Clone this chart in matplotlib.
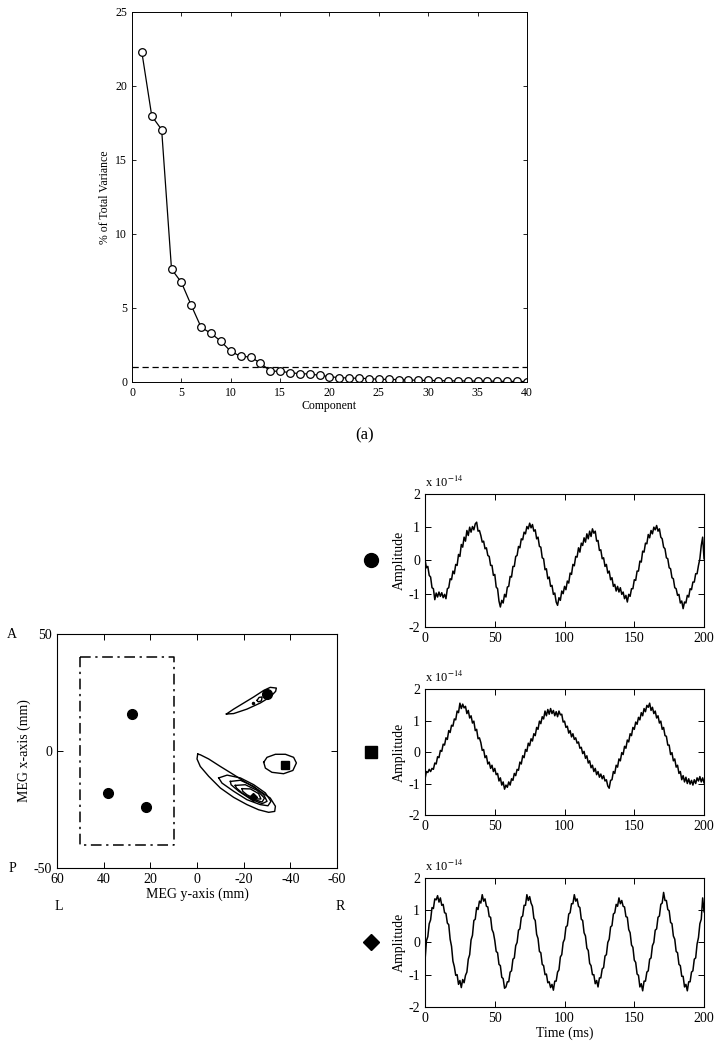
import numpy as np
import matplotlib
matplotlib.use("Agg")
import matplotlib.pyplot as plt
from matplotlib.lines import Line2D

plt.rcParams['font.family'] = ['Liberation Serif', 'DejaVu Serif']
plt.rcParams['mathtext.fontset'] = 'stix'
plt.rcParams['axes.unicode_minus'] = False
plt.rcParams['xtick.direction'] = 'in'
plt.rcParams['ytick.direction'] = 'in'
plt.rcParams['xtick.top'] = True
plt.rcParams['ytick.right'] = True

# ---- (a) variance explained per component ----
component = np.arange(1, 41)
variance = [22.27, 17.97, 17.05, 7.63, 6.73, 5.18, 3.69, 3.29, 2.75, 2.07,
            1.73, 1.69, 1.28, 0.74, 0.72, 0.63, 0.56, 0.54, 0.45, 0.36,
            0.29, 0.27, 0.25, 0.23, 0.18, 0.18, 0.16, 0.14, 0.11, 0.11,
            0.09, 0.08, 0.07, 0.07, 0.06, 0.06, 0.05, 0.04, 0.04, 0.03]
threshold = 1.0

# ---- map of sources (MEG y, MEG x in mm) ----
box_y = [50, 10, 10, 50, 50]
box_x = [40, 40, -40, -40, 40]
dots_y = [28, 38, 22]
dots_x = [16, -18, -24]
circle_src = (-30, 24.2)
square_src = (-37.9, -6.0)
diamond_src = (-24, -19.8)

contour_upper = [(-12.6, 15.8), (-15.7, 17.9), (-20.0, 20.5), (-24.3, 23.1), (-28.6, 25.9),
                 (-31.4, 27.2), (-34.0, 26.9), (-33.7, 25.5), (-31.4, 23.1), (-27.1, 20.5),
                 (-21.4, 17.9), (-15.7, 16.0), (-12.6, 15.8)]
contour_small = [(-25.7, 21.6), (-26.6, 22.9), (-27.9, 23.1), (-27.6, 21.4), (-26.3, 21.0), (-25.7, 21.6)]
contour_square = [(-28.6, -4.8), (-30.0, -2.7), (-33.6, -1.4), (-37.9, -1.4), (-41.4, -2.7),
                  (-42.6, -5.1), (-41.1, -8.3), (-37.1, -9.7), (-32.1, -9.1), (-29.3, -7.3), (-28.6, -4.8)]
contour_lower1 = [(-0.3, -1.3), (-1.4, -1.6), (-5.0, -3.4), (-10.0, -6.6), (-15.7, -10.1),
                  (-21.4, -13.7), (-27.1, -17.2), (-31.4, -20.1), (-33.6, -23.6), (-33.3, -25.8),
                  (-30.7, -26.2), (-26.4, -25.1), (-21.4, -22.9), (-15.7, -19.8), (-10.0, -15.8),
                  (-5.0, -10.8), (-1.4, -6.6), (0.0, -3.4), (-0.3, -1.3)]
contour_lower2 = [(-9.3, -11.5), (-12.9, -10.3), (-18.6, -11.5), (-24.3, -14.4), (-29.3, -17.9),
                  (-31.7, -21.5), (-30.4, -23.4), (-27.1, -22.9), (-21.4, -20.8), (-15.7, -17.2),
                  (-10.7, -13.7), (-9.3, -11.5)]
contour_lower3 = [(-14.3, -13.0), (-18.6, -12.5), (-24.3, -15.1), (-28.6, -18.7), (-30.0, -21.5),
                  (-27.9, -22.5), (-22.9, -20.5), (-17.9, -17.2), (-14.6, -14.4), (-14.3, -13.0)]
contour_lower4 = [(-16.4, -14.7), (-20.7, -14.4), (-25.7, -16.8), (-28.9, -20.1), (-27.9, -21.8),
                  (-23.6, -20.4), (-19.3, -17.9), (-16.9, -15.8), (-16.4, -14.7)]
contour_lower5 = [(-19.3, -16.1), (-22.9, -16.2), (-26.4, -18.2), (-27.4, -20.5), (-25.0, -20.5),
                  (-21.4, -18.7), (-19.6, -17.2), (-19.3, -16.1)]

# ---- source waveforms (x 1e-14), 1 ms steps ----
time_ms = np.arange(0, 201)
wave_circle = [
    0.02, -0.22, -0.18, -0.45, -0.50, -0.82, -0.85, -1.18, -0.98, -1.10,
    -0.95, -1.08, -0.97, -1.12, -1.02, -1.15, -0.85, -0.82, -0.55, -0.58,
    -0.32, -0.40, -0.12, -0.15, 0.18, 0.12, 0.48, 0.40, 0.70, 0.58,
    0.90, 0.75, 1.00, 0.85, 1.02, 0.92, 1.10, 1.15, 0.88, 0.90,
    0.75, 0.55, 0.58, 0.35, 0.38, 0.15, 0.12, -0.15, -0.15, -0.45,
    -0.42, -0.80, -0.85, -1.22, -1.40, -1.20, -1.28, -1.02, -1.10, -0.80,
    -0.78, -0.48, -0.50, -0.18, -0.18, 0.12, 0.15, 0.42, 0.38, 0.65,
    0.62, 0.85, 0.80, 1.02, 0.95, 1.12, 0.98, 1.08, 0.88, 0.92,
    0.65, 0.70, 0.42, 0.40, 0.08, 0.05, -0.28, -0.25, -0.55, -0.50,
    -0.78, -0.75, -1.02, -0.98, -1.25, -1.35, -1.12, -1.20, -0.92, -1.00,
    -0.78, -0.88, -0.62, -0.68, -0.38, -0.42, -0.12, -0.16, 0.12, 0.10,
    0.38, 0.25, 0.52, 0.45, 0.68, 0.55, 0.80, 0.65, 0.88, 0.72,
    0.95, 0.82, 0.88, 0.58, 0.60, 0.30, 0.32, 0.05, 0.08, -0.18,
    -0.12, -0.38, -0.32, -0.58, -0.52, -0.78, -0.72, -0.92, -0.78, -0.95,
    -0.82, -1.02, -0.95, -1.15, -1.05, -1.25, -1.02, -1.08, -0.85, -0.85,
    -0.58, -0.60, -0.32, -0.32, -0.02, -0.05, 0.28, 0.25, 0.52, 0.50,
    0.78, 0.68, 0.90, 0.80, 1.00, 0.92, 1.05, 0.88, 0.95, 0.70,
    0.65, 0.40, 0.35, 0.08, 0.05, -0.22, -0.25, -0.52, -0.55, -0.82,
    -0.85, -1.05, -1.02, -1.28, -1.22, -1.45, -1.25, -1.28, -1.05, -1.10,
    -0.85, -0.88, -0.65, -0.65, -0.40, -0.40, -0.15, 0.05, 0.45, 0.70, 0.05]
wave_square = [
    -0.85, -0.62, -0.65, -0.55, -0.62, -0.52, -0.55, -0.35, -0.38, -0.15,
    -0.18, 0.05, 0.02, 0.25, 0.22, 0.45, 0.40, 0.68, 0.62, 0.85,
    0.82, 1.05, 1.02, 1.30, 1.25, 1.55, 1.38, 1.52, 1.40, 1.45,
    1.22, 1.32, 1.08, 1.15, 0.92, 0.98, 0.68, 0.72, 0.42, 0.45,
    0.30, 0.05, 0.08, -0.18, -0.12, -0.38, -0.32, -0.52, -0.42, -0.62,
    -0.52, -0.72, -0.68, -0.92, -0.82, -1.05, -0.95, -1.18, -1.05, -1.12,
    -0.95, -1.05, -0.85, -0.90, -0.68, -0.75, -0.55, -0.58, -0.32, -0.38,
    -0.12, -0.18, 0.08, 0.02, 0.28, 0.20, 0.42, 0.35, 0.58, 0.52,
    0.78, 0.72, 0.98, 0.90, 1.12, 1.05, 1.30, 1.15, 1.35, 1.20,
    1.38, 1.22, 1.32, 1.15, 1.28, 1.12, 1.30, 1.18, 1.20, 0.95,
    0.98, 0.78, 0.82, 0.60, 0.68, 0.48, 0.58, 0.40, 0.45, 0.28,
    0.32, 0.12, 0.15, -0.05, 0.02, -0.20, -0.12, -0.35, -0.28, -0.50,
    -0.42, -0.62, -0.52, -0.72, -0.62, -0.80, -0.70, -0.85, -0.75, -0.92,
    -0.88, -1.08, -1.15, -0.90, -0.88, -0.62, -0.68, -0.42, -0.48, -0.22,
    -0.28, -0.02, -0.08, 0.18, 0.12, 0.38, 0.32, 0.58, 0.52, 0.78,
    0.72, 0.95, 0.88, 1.10, 1.02, 1.25, 1.15, 1.38, 1.28, 1.48,
    1.42, 1.55, 1.32, 1.42, 1.22, 1.30, 1.08, 1.15, 0.92, 0.98,
    0.72, 0.78, 0.52, 0.50, 0.22, 0.22, -0.08, -0.02, -0.28, -0.22,
    -0.48, -0.42, -0.68, -0.62, -0.88, -0.75, -0.95, -0.80, -1.00, -0.85,
    -1.02, -0.90, -1.05, -0.88, -1.00, -0.82, -0.92, -0.78, -0.95, -0.82, -0.98]
wave_diamond = [
    -0.55, 0.05, 0.18, 0.58, 0.70, 1.08, 1.05, 1.35, 1.32, 1.45,
    1.25, 1.38, 1.15, 1.18, 0.92, 0.90, 0.60, 0.55, 0.10, -0.12,
    -0.58, -0.75, -1.02, -1.00, -1.30, -1.18, -1.40, -1.15, -1.25, -1.02,
    -0.92, -0.52, -0.38, 0.08, 0.22, 0.68, 0.72, 1.08, 1.02, 1.28,
    1.22, 1.48, 1.28, 1.35, 1.12, 1.10, 0.80, 0.78, 0.40, 0.30,
    0.06, -0.28, -0.32, -0.68, -0.72, -1.08, -1.12, -1.42, -1.38, -1.22,
    -1.22, -0.92, -0.88, -0.52, -0.48, -0.10, 0.00, 0.38, 0.42, 0.78,
    0.82, 1.15, 1.15, 1.48, 1.30, 1.42, 1.22, 1.12, 0.75, 0.68,
    0.25, 0.12, -0.28, -0.32, -0.68, -0.72, -1.00, -0.98, -1.25, -1.22,
    -1.40, -1.30, -1.48, -1.20, -1.20, -0.92, -0.85, -0.45, -0.38, 0.00,
    0.10, 0.48, 0.52, 0.88, 0.92, 1.20, 1.20, 1.48, 1.28, 1.35,
    1.12, 1.08, 0.72, 0.68, 0.30, 0.20, -0.18, -0.25, -0.65, -0.72,
    -1.00, -1.00, -1.28, -1.18, -1.38, -1.10, -1.10, -0.82, -0.78, -0.42,
    -0.38, 0.00, 0.10, 0.48, 0.52, 0.88, 0.92, 1.18, 1.12, 1.38,
    1.20, 1.30, 1.12, 1.10, 0.80, 0.78, 0.40, 0.30, -0.08, -0.15,
    -0.55, -0.62, -0.98, -1.02, -1.38, -1.28, -1.50, -1.20, -1.20, -0.92,
    -0.88, -0.52, -0.48, -0.10, 0.00, 0.38, 0.42, 0.78, 0.82, 1.18,
    1.22, 1.55, 1.30, 1.30, 1.02, 0.98, 0.62, 0.58, 0.20, 0.10,
    -0.28, -0.32, -0.68, -0.72, -1.05, -1.05, -1.38, -1.30, -1.50, -1.22,
    -1.22, -0.92, -0.88, -0.52, -0.48, -0.05, 0.15, 0.58, 0.72, 1.38, 0.95]

fig = plt.figure(figsize=(7.21, 10.5), dpi=100)

# ---------------- top: scree plot ----------------
ax = fig.add_axes([0.1831, 0.6362, 0.5478, 0.3524])
ax.plot(component, variance, '-o', color='black', mfc='white', ms=5.5, lw=0.9, mew=0.9)
ax.axhline(threshold, color='black', ls=(0, (5, 3)), lw=0.9)
ax.set_xlim(0, 40)
ax.set_ylim(0, 25)
ax.set_xticks(range(0, 41, 5))
ax.set_yticks(range(0, 26, 5))
ax.tick_params(labelsize=8.5, length=3, width=0.6)
ax.set_xlabel('Component', fontsize=8.5, labelpad=1)
ax.set_ylabel('% of Total Variance', fontsize=8.5, labelpad=3)
for s in ax.spines.values():
    s.set_linewidth(0.7)
fig.text(0.505, 0.585, '(a)', fontsize=12, ha='center', va='center')

# ---------------- bottom left: source map ----------------
axm = fig.add_axes([0.0791, 0.1733, 0.3883, 0.2229])
axm.plot(box_y, box_x, color='black', lw=1.1, ls=(0, (7, 3, 1.5, 3)))
axm.plot(dots_y, dots_x, 'o', color='black', ms=7)
for c in [contour_upper, contour_small, contour_square, contour_lower1,
          contour_lower2, contour_lower3, contour_lower4, contour_lower5]:
    cy, cx = zip(*c)
    axm.plot(cy, cx, color='black', lw=1.0)
axm.plot([-23.9], [20.5], 'o', color='black', ms=1.5)
axm.plot([circle_src[0]], [circle_src[1]], 'o', color='black', ms=7)
axm.plot([square_src[0]], [square_src[1]], 's', color='black', ms=5.5)
axm.plot([diamond_src[0]], [diamond_src[1]], 'D', color='black', ms=4)
axm.set_xlim(60, -60)
axm.set_ylim(-50, 50)
axm.set_xticks([60, 40, 20, 0, -20, -40, -60])
axm.set_yticks([50, 0, -50])
axm.tick_params(labelsize=10, length=4, width=0.7)
axm.set_xlabel('MEG y-axis (mm)', fontsize=10, labelpad=1)
axm.set_ylabel('MEG x-axis (mm)', fontsize=10, labelpad=2)
fig.text(0.0167, 0.396, 'A', fontsize=10, ha='center', va='center')
fig.text(0.0167, 0.173, 'P', fontsize=10, ha='center', va='center')
fig.text(0.081, 0.137, 'L', fontsize=10, ha='center', va='center')
fig.text(0.472, 0.137, 'R', fontsize=10, ha='center', va='center')

# ---------------- right: waveforms ----------------
ts_boxes = [[0.5895, 0.4029, 0.3870, 0.1267],
            [0.5895, 0.2238, 0.3870, 0.1200],
            [0.5895, 0.0410, 0.3870, 0.1229]]
waves = [wave_circle, wave_square, wave_diamond]
markers = ['o', 's', 'D']
msizes = [10, 8, 8]
for i, (box, w) in enumerate(zip(ts_boxes, waves)):
    a = fig.add_axes(box)
    a.plot(time_ms, w, color='black', lw=1.1)
    a.set_xlim(0, 200)
    a.set_ylim(-2, 2)
    a.set_xticks([0, 50, 100, 150, 200])
    a.set_yticks([-2, -1, 0, 1, 2])
    a.tick_params(labelsize=10, length=4, width=0.7)
    a.set_ylabel('Amplitude', fontsize=10, labelpad=2)
    a.text(0.0, 1.03, r'x 10$^{-14}$', transform=a.transAxes, fontsize=9,
           ha='left', va='bottom')
    if i == 2:
        a.set_xlabel('Time (ms)', fontsize=10, labelpad=1)
    yc = box[1] + box[3] / 2
    fig.add_artist(Line2D([0.515], [yc], marker=markers[i], color='black',
                          ms=msizes[i], transform=fig.transFigure))

fig.savefig('out.png', dpi=100, facecolor='white')
